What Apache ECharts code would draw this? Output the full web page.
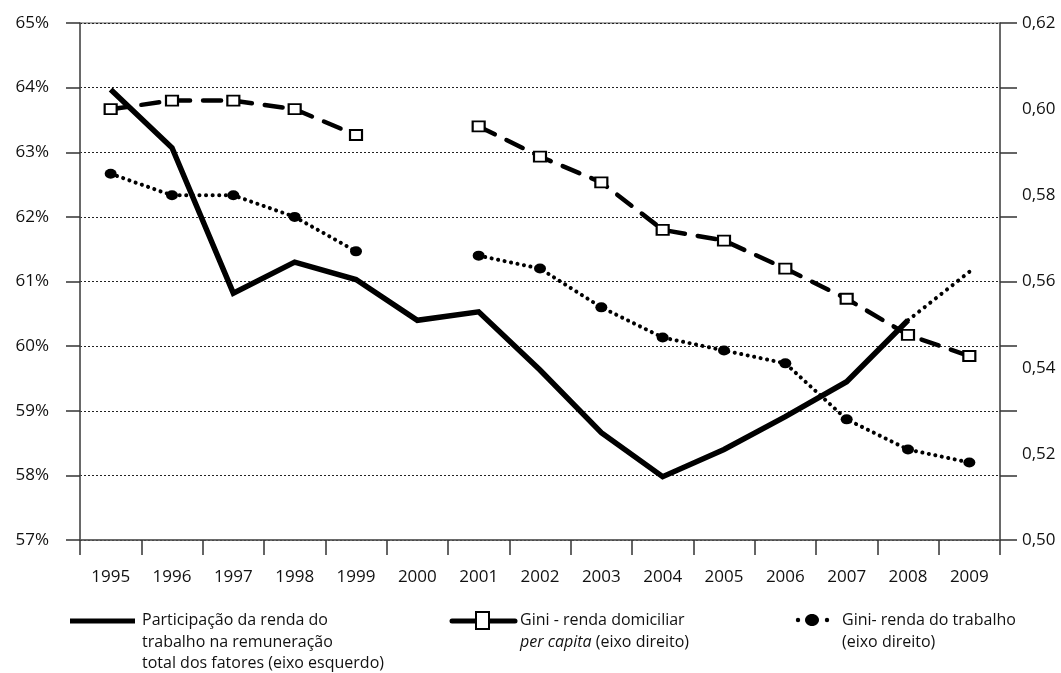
<!DOCTYPE html>
<html>
<head>
<meta charset="utf-8">
<script src="https://cdn.jsdelivr.net/npm/echarts@6/dist/echarts.min.js"></script>
<style>
  html, body { margin: 0; padding: 0; background: #fff; }
  #main-chart { width: 1061px; height: 673px; }
</style>
</head>
<body>
<div id="main-chart"></div>
<script>
// anos (eixo x)
const years = ['1995', '1996', '1997', '1998', '1999', '2000', '2001', '2002', '2003', '2004', '2005', '2006', '2007', '2008', '2009']

// participação da renda do trabalho (% , eixo esquerdo)
const participacao = [63.97, 63.07, 60.82, 61.30, 61.03, 60.40, 60.53, 59.63, 58.66, 57.98, 58.40, 58.91, 59.45, 60.40, null]
// trecho pontilhado 2008-2009
const participacaoProj = [null, null, null, null, null, null, null, null, null, null, null, null, null, 60.40, 61.15]

// Gini - renda domiciliar per capita (eixo direito)
const giniDomiciliar = [0.600, 0.602, 0.602, 0.600, 0.594, null, 0.596, 0.589, 0.583, 0.572, 0.5695, 0.563, 0.556, 0.5476, 0.5427]
// Gini - renda do trabalho (eixo direito)
const giniTrabalho = [0.585, 0.580, 0.580, 0.575, 0.567, null, 0.566, 0.563, 0.554, 0.547, 0.544, 0.541, 0.528, 0.521, 0.518]

const legendNames = [
  'Participação da renda do\ntrabalho na remuneração\ntotal dos fatores (eixo esquerdo)',
  '{n|Gini - renda domiciliar}\n{i|per capita}{n| (eixo direito)}',
  'Gini- renda do trabalho\n(eixo direito)'
]

const FONT = '"Open Sans", "Noto Sans", sans-serif'
const axisLabelStyle = { color: '#111', fontSize: 17, fontFamily: FONT }

const myChart = echarts.init(document.getElementById('main-chart'))

const legendText = { fill: '#111', fontSize: 16, fontFamily: FONT, lineHeight: 21.5 }

const option = {
  animation: false,
  backgroundColor: '#fff',
  grid: {
    left: 80,
    right: 61,
    top: 23,
    bottom: 133,
    show: true,
    borderColor: '#555',
    borderWidth: 1
  },
  xAxis: {
    type: 'category',
    data: years,
    boundaryGap: true,
    axisLine: { lineStyle: { color: '#555', width: 1.5 } },
    axisTick: { show: true, length: 15, lineStyle: { color: '#333', width: 1.5 } },
    axisLabel: { ...axisLabelStyle, margin: 29 }
  },
  yAxis: [
    {
      type: 'value',
      min: 57,
      max: 65,
      interval: 1,
      position: 'left',
      axisLine: { show: true, lineStyle: { color: '#555', width: 1.5 } },
      axisTick: { show: true, length: 14, lineStyle: { color: '#333', width: 1.5 } },
      axisLabel: { ...axisLabelStyle, margin: 31, formatter: v => v + '%' },
      splitLine: { show: true, lineStyle: { color: '#222', type: [2, 2], width: 1 } }
    },
    {
      // só as marcas do eixo direito (alinhadas às linhas de grade)
      type: 'value',
      min: 0,
      max: 8,
      interval: 1,
      position: 'right',
      axisLine: { show: true, lineStyle: { color: '#555', width: 1.5 } },
      axisTick: { show: true, length: 17, lineStyle: { color: '#333', width: 1.5 } },
      axisLabel: { show: false },
      splitLine: { show: false }
    },
    {
      type: 'value',
      min: 0.50,
      max: 0.62,
      interval: 0.02,
      position: 'right',
      axisLine: { show: false },
      axisTick: { show: false },
      axisLabel: { ...axisLabelStyle, margin: 22, formatter: v => v.toFixed(2).replace('.', ',') },
      splitLine: { show: false }
    }
  ],
  series: [
    {
      name: 'Participação',
      type: 'line',
      yAxisIndex: 0,
      data: participacao,
      showSymbol: false,
      symbol: 'none',
      lineStyle: { color: '#000', width: 5.5, join: 'miter' },
      z: 3
    },
    {
      name: 'Participação projeção',
      type: 'line',
      yAxisIndex: 0,
      data: participacaoProj,
      symbol: 'none',
      lineStyle: { color: '#000', width: 4, type: [0.1, 7], cap: 'round' },
      z: 3
    },
    {
      name: 'Gini domiciliar',
      type: 'line',
      yAxisIndex: 2,
      data: giniDomiciliar,
      connectNulls: false,
      symbol: 'rect',
      symbolSize: [12, 10],
      itemStyle: { color: '#fff', borderColor: '#000', borderWidth: 2 },
      lineStyle: { color: '#000', width: 4.5, type: [18, 13], cap: 'round' },
      z: 4
    },
    {
      name: 'Gini trabalho',
      type: 'line',
      yAxisIndex: 2,
      data: giniTrabalho,
      connectNulls: false,
      symbol: 'circle',
      symbolSize: [12, 10],
      itemStyle: { color: '#000' },
      lineStyle: { color: '#000', width: 4, type: [0.1, 6.5], cap: 'round' },
      z: 4
    }
  ],
  graphic: [
    // legenda 1
    { type: 'line', shape: { x1: 70, y1: 621, x2: 135, y2: 621 }, style: { stroke: '#000', lineWidth: 5 } },
    { type: 'text', x: 142, y: 610, style: { ...legendText, text: legendNames[0] } },
    // legenda 2
    { type: 'line', shape: { x1: 452, y1: 621, x2: 515, y2: 621 }, style: { stroke: '#000', lineWidth: 5, lineCap: 'round' } },
    { type: 'rect', shape: { x: 476, y: 612, width: 13, height: 17 }, style: { fill: '#fff', stroke: '#000', lineWidth: 2 } },
    {
      type: 'text', x: 520, y: 610,
      style: {
        text: legendNames[1],
        rich: {
          n: { ...legendText },
          i: { ...legendText, fontStyle: 'italic' }
        }
      }
    },
    // legenda 3
    { type: 'circle', shape: { cx: 798, cy: 620, r: 2.2 }, style: { fill: '#000' } },
    { type: 'ellipse', shape: { cx: 812, cy: 620, rx: 7, ry: 6 }, style: { fill: '#000' } },
    { type: 'circle', shape: { cx: 827, cy: 620, r: 2.2 }, style: { fill: '#000' } },
    { type: 'text', x: 842, y: 610, style: { ...legendText, text: legendNames[2] } }
  ]
}

myChart.setOption(option)
</script>
</body>
</html>
